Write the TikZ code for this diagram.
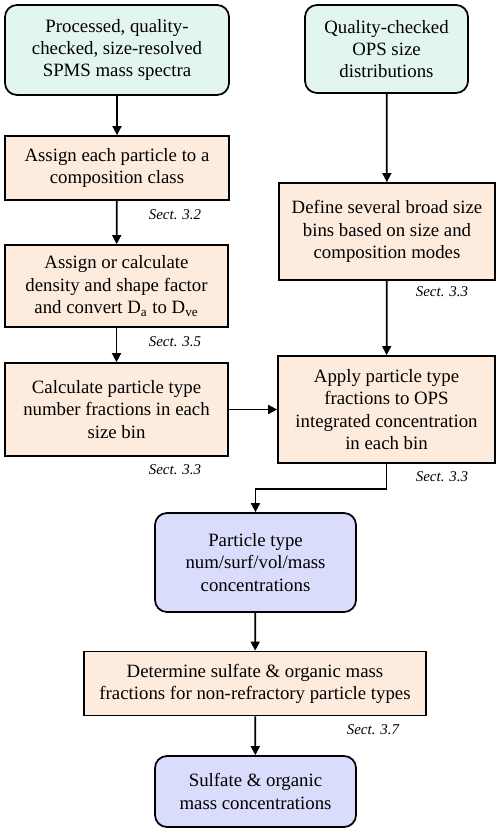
\documentclass[tikz,border=0pt]{standalone}
\usepackage{fontspec}
\setmainfont{Liberation Serif}
\usetikzlibrary{arrows.meta}

\definecolor{inputgreen}{HTML}{E2F5EE}
\definecolor{stepbeige}{HTML}{FDEBDD}
\definecolor{outblue}{HTML}{D9DCFA}

\begin{document}
\begin{tikzpicture}[
  x=0.2mm, y=-0.2mm,
  font=\fontsize{10.7}{12.6}\selectfont,
  inbox/.style={draw, line width=1pt, rounded corners=2.4mm, fill=inputgreen, align=center, inner sep=0pt},
  stepbox/.style={draw, line width=1pt, fill=stepbeige, align=center, inner sep=0pt},
  outbox/.style={draw, line width=1pt, rounded corners=2.4mm, fill=outblue, align=center, inner sep=0pt},
  sect/.style={font=\fontsize{8.5}{10}\selectfont\itshape},
  flow/.style={-{Triangle[length=1.8mm, width=1.8mm]}, line width=1pt}
]
\useasboundingbox (0,0) rectangle (500,833);
% left column
\node[inbox, minimum width=44.8mm, minimum height=18mm] (spms) at (117,50) {Processed, quality-\\checked, size-resolved\\SPMS mass spectra};
\node[stepbox, minimum width=44.8mm, minimum height=12.8mm] (assign) at (117,168) {Assign each particle to a\\composition class};
\node[stepbox, minimum width=44.6mm, minimum height=16.4mm] (density) at (116.5,286) {Assign or calculate\\density and shape factor\\and convert D\textsubscript{a} to D\textsubscript{ve}};
\node[stepbox, minimum width=44.6mm, minimum height=18.6mm] (numfrac) at (116.5,409.5) {Calculate particle type\\number fractions in each\\size bin};
% right column
\node[inbox, minimum width=32.6mm, minimum height=17.6mm] (ops) at (386.5,49) {Quality-checked\\OPS size\\distributions};
\node[stepbox, minimum width=43.2mm, minimum height=19.4mm] (bins) at (387,231.5) {Define several broad size\\bins based on size and\\composition modes};
\node[stepbox, minimum width=43.4mm, minimum height=21.4mm] (apply) at (386.5,409.5) {Apply particle type\\fractions to OPS\\integrated concentration\\in each bin};
% outputs
\node[outbox, minimum width=40.2mm, minimum height=19.8mm] (ptype) at (255.5,562.5) {Particle type\\num/surf/vol/mass\\concentrations};
\node[stepbox, minimum width=68.4mm, minimum height=12.8mm] (massfrac) at (255,683.5) {Determine sulfate \& organic mass\\fractions for non-refractory particle types};
\node[outbox, minimum width=40.2mm, minimum height=14.2mm] (sulfate) at (255.5,791.5) {Sulfate \& organic\\mass concentrations};
% section refs
\node[sect] (s32) at (175,215) {Sect. 3.2};
\node[sect] (s35) at (175,342) {Sect. 3.5};
\node[sect] (s33a) at (175,470) {Sect. 3.3};
\node[sect] (s33b) at (442,292) {Sect. 3.3};
\node[sect] (s33c) at (442,477) {Sect. 3.3};
\node[sect] (s37) at (373,730) {Sect. 3.7};
% arrows
\draw[flow] (spms) -- (assign);
\draw[flow] (assign) -- (density);
\draw[flow] (density) -- (numfrac);
\draw[flow] (numfrac) -- (apply);
\draw[flow] (ops) -- (bins);
\draw[flow] (bins) -- (apply);
\draw[flow] (apply.south) -- ++(0,25) -| (ptype.north);
\draw[flow] (ptype) -- (massfrac);
\draw[flow] (massfrac) -- (sulfate);
\end{tikzpicture}
\end{document}
